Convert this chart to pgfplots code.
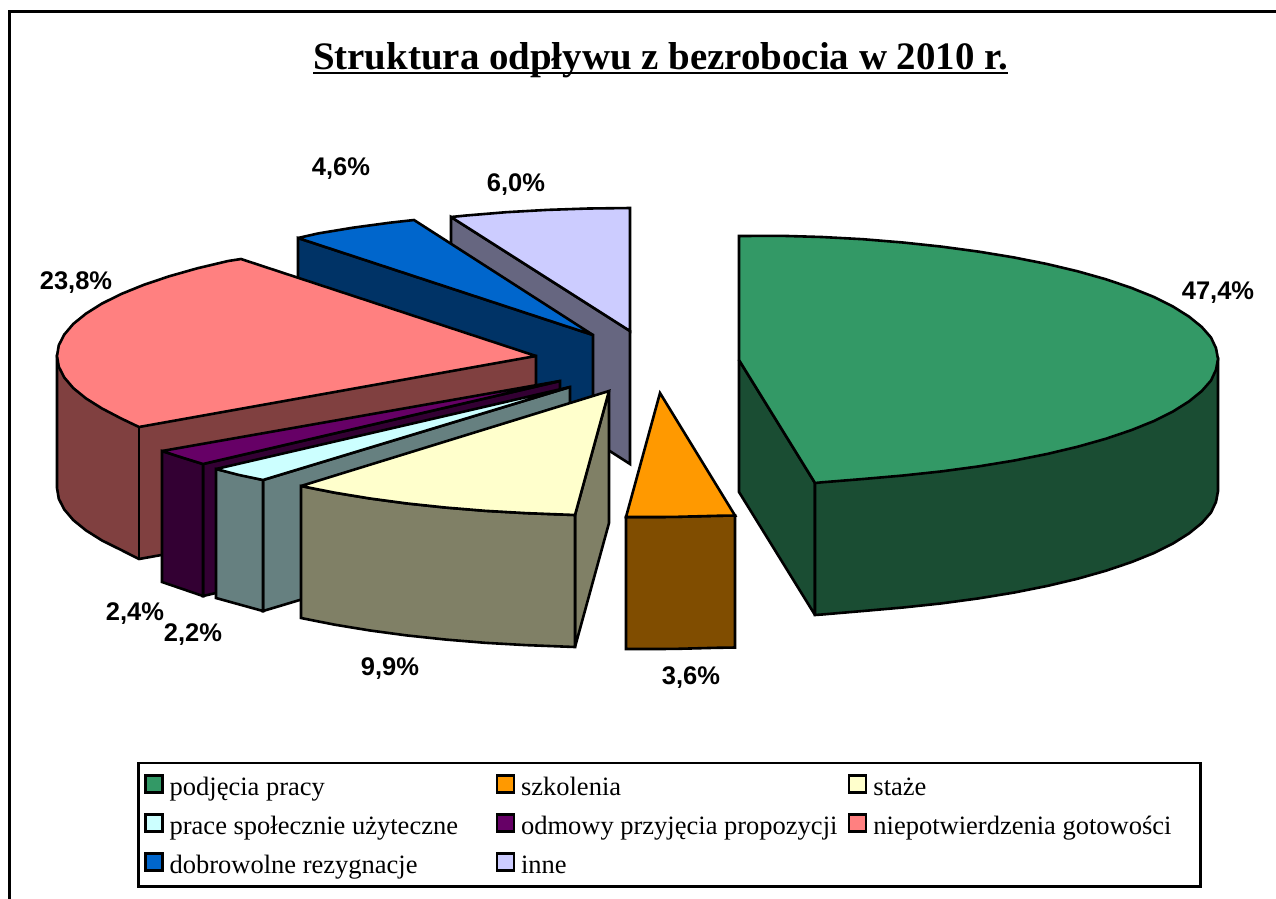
\documentclass[border=0pt]{standalone}
\usepackage{fontspec}
\setmainfont{Liberation Serif}
\newfontfamily\lab{Liberation Sans}[BoldFont={Liberation Sans Bold}]
\usepackage{pgfplots}
\pgfplotsset{compat=1.18}
\definecolor{cG}{HTML}{339966}\definecolor{dG}{HTML}{1A4D33}
\definecolor{cO}{HTML}{FF9900}\definecolor{dO}{HTML}{804D00}
\definecolor{cY}{HTML}{FFFFCC}\definecolor{dY}{HTML}{808066}
\definecolor{cC}{HTML}{CCFFFF}\definecolor{dC}{HTML}{668080}
\definecolor{cM}{HTML}{660066}\definecolor{dM}{HTML}{330033}
\definecolor{cP}{HTML}{FF8080}\definecolor{dP}{HTML}{804040}
\definecolor{cB}{HTML}{0066CC}\definecolor{dB}{HTML}{003366}
\definecolor{cL}{HTML}{CCCCFF}\definecolor{dL}{HTML}{666680}
\pgfplotsset{face/.style={forget plot,draw=black,line width=2.6pt,line join=miter,miter limit=3,fill=#1}}
\newcommand{\legtxt}[2][326pt]{\makebox[#1][l]{\rule[-9pt]{0pt}{31pt}\hspace{3pt}#2}}
\newcommand{\pct}[1]{\fontsize{25.5}{28}\selectfont\lab\bfseries #1}
\begin{document}
\begin{tikzpicture}
\path[use as bounding box] (0,0) rectangle (1276pt,898pt);
\begin{axis}[
  at={(0,0)},anchor=south west,
  width=1276pt,height=898pt,scale only axis,
  xmin=0,xmax=1276,ymin=0,ymax=898,y dir=reverse,
  hide axis,
  legend columns=3,
  legend cell align=left,
  legend image code/.code={\draw[#1,line width=2.4pt] (0pt,-7pt) rectangle (17pt,10pt);},
  legend style={at={(axis cs:137,761.5)},anchor=north west,draw=black,line width=2.5pt,fill=white,
    font=\fontsize{26.5}{28}\selectfont,
    inner xsep=6pt,inner ysep=11pt,row sep=15.5pt,
    nodes={inner xsep=3pt,inner ysep=0pt,line width=0pt}},
]
% frame
\addplot[forget plot,black,line width=2.6pt] coordinates {(1280,11.3)(9.4,11.3)(9.4,905)};
\addplot[forget plot,black,line width=2.6pt] coordinates {(313,73)(1008,73)};

% legend in the reference's order
\addlegendimage{fill=cG,draw=black}\addlegendentry{\legtxt{podjęcia pracy}}
\addlegendimage{fill=cO,draw=black}\addlegendentry{\legtxt[327pt]{szkolenia}}
\addlegendimage{fill=cY,draw=black}\addlegendentry{\legtxt[321pt]{staże}}
\addlegendimage{fill=cC,draw=black}\addlegendentry{\legtxt{prace społecznie użyteczne}}
\addlegendimage{fill=cM,draw=black}\addlegendentry{\legtxt[327pt]{odmowy przyjęcia propozycji}}
\addlegendimage{fill=cP,draw=black}\addlegendentry{\legtxt[321pt]{niepotwierdzenia gotowości}}
\addlegendimage{fill=cB,draw=black}\addlegendentry{\legtxt{dobrowolne rezygnacje}}
\addlegendimage{fill=cL,draw=black}\addlegendentry{\legtxt[327pt]{inne}}

% inne 6.0
\addplot[face=dL] coordinates {(451,217)(630,331)(630,464)(451,349)} -- cycle;
\addplot[face=cL] coordinates {(451,217)(466.2,215.5)(506,212.2)(546.8,209.9)(588.3,208.5)(630,208)(630,331)} -- cycle;

% dobrowolne rezygnacje 4.6
\addplot[face=dB] coordinates {(298,238)(593,335)(593,467)(298,370)} -- cycle;
\addplot[face=cB] coordinates {(298,238)(318.3,233.4)(353.5,227.6)(390.6,222.6)(414,220)(593,335)} -- cycle;

% niepotwierdzenia gotowosci 23.8
\addplot[face=dP] coordinates {(57,356)(57,488)(58.8,498.8)(64.3,509.5)(73.3,520.1)(86,530.4)(101.9,540.4)(121.2,550)(139,559)(536,488)(536,356)} -- cycle;
\addplot[forget plot,black,line width=2.6pt] coordinates {(139,427)(139,559)};
\addplot[face=cP] coordinates {(241,259)(228.1,261)(197.3,268.3)(169.1,276.3)(143.6,284.9)(121.2,294)(101.9,303.6)(86,313.6)(73.3,323.9)(64.3,334.5)(58.8,345.2)(57,356)(58.8,366.8)(64.3,377.5)(73.3,388.1)(86,398.4)(101.9,408.4)(121.2,418.5)(139,427)(536,356)} -- cycle;

% odmowy 2.4
\addplot[face=dM] coordinates {(203,464)(560,381)(560,513)(203,596)} -- cycle;
\addplot[face=dM] coordinates {(162,451)(203,464)(203,596)(162,582)} -- cycle;
\addplot[face=cM] coordinates {(162,451)(182,457.5)(203,464)(560,381)} -- cycle;

% prace spoleczne 2.2
\addplot[face=dC] coordinates {(263,480)(570,387)(570,519)(263,611)} -- cycle;
\addplot[face=dC] coordinates {(216,469)(263,480)(263,611)(216,598)} -- cycle;
\addplot[face=cC] coordinates {(216,469)(239,475)(263,480)(570,387)} -- cycle;

% staze 9.9
\addplot[face=dY] coordinates {(609,391)(609,523)(575,647)(575,515)} -- cycle;
\addplot[face=dY] coordinates {(301,486)(334.3,492.6)(369.5,498.4)(406.6,503.4)(445.2,507.5)(485,510.8)(525.8,513.1)(575,515)(575,647)(525.8,645.1)(485,642.8)(445.2,639.5)(406.6,635.4)(369.5,630.4)(334.3,624.6)(301,618)} -- cycle;
\addplot[face=cY] coordinates {(301,486)(334.3,492.6)(369.5,498.4)(406.6,503.4)(445.2,507.5)(485,510.8)(525.8,513.1)(575,515)(609,391)} -- cycle;

% szkolenia 3.6
\addplot[face=dO] coordinates {(626,517)(643,517)(660,517)(678,516.8)(697,516.3)(716,515.8)(735,515.5)(735,647.5)(716,647.8)(697,648.3)(678,648.8)(660,649)(643,649)(626,649)} -- cycle;
\addplot[face=cO] coordinates {(626,517)(643,517)(660,517)(678,516.8)(697,516.3)(716,515.8)(735,515.5)(660,393)} -- cycle;

% podjecia pracy 47.4
\addplot[face=dG] coordinates {(739,360)(739,492)(815,615)(815,483)} -- cycle;
\addplot[face=dG] coordinates {(1218,359)(1218,491)(1216,501.8)(1211,512.5)(1201.7,523.1)(1189,533.4)(1173.1,543.4)(1154,553)(1131.4,562.1)(1106,570.7)(1077.7,578.7)(1047,586)(1013.8,592.6)(978.5,598.4)(941.4,603.4)(903,607.5)(863,611)(822,614.5)(815,615)(815,483)} -- cycle;
\addplot[face=cG] coordinates {(739,236)(780.8,235.8)(822,237)(863,239.2)(903,242.5)(941.4,246.6)(978.5,251.6)(1013.8,257.4)(1047,264)(1077.7,271.3)(1106,279.3)(1131.4,287.9)(1154,297)(1173.1,306.6)(1189,316.6)(1201.7,326.9)(1211,337.5)(1216,348.2)(1218,359)(1216,369.8)(1211,380.5)(1201.7,391.1)(1189,401.4)(1173.1,411.4)(1154,421)(1131.4,430.1)(1106,438.7)(1077.7,446.7)(1047,454)(1013.8,460.6)(978.5,466.4)(941.4,471.4)(903,475.5)(863,479)(822,482.3)(815,483)(739,360)} -- cycle;

% texts
\node[font=\fontsize{38.9}{42}\selectfont\bfseries,anchor=base] at (axis cs:660.5,69.5) {Struktura odpływu z bezrobocia w 2010 r.};
\node at (axis cs:1218,293) {\pct{47,4\%}};
\node at (axis cs:691,678) {\pct{3,6\%}};
\node at (axis cs:390,669) {\pct{9,9\%}};
\node at (axis cs:193,635) {\pct{2,2\%}};
\node at (axis cs:135,614) {\pct{2,4\%}};
\node at (axis cs:76,283) {\pct{23,8\%}};
\node at (axis cs:341,169) {\pct{4,6\%}};
\node at (axis cs:516,185) {\pct{6,0\%}};
\end{axis}
\end{tikzpicture}
\end{document}
